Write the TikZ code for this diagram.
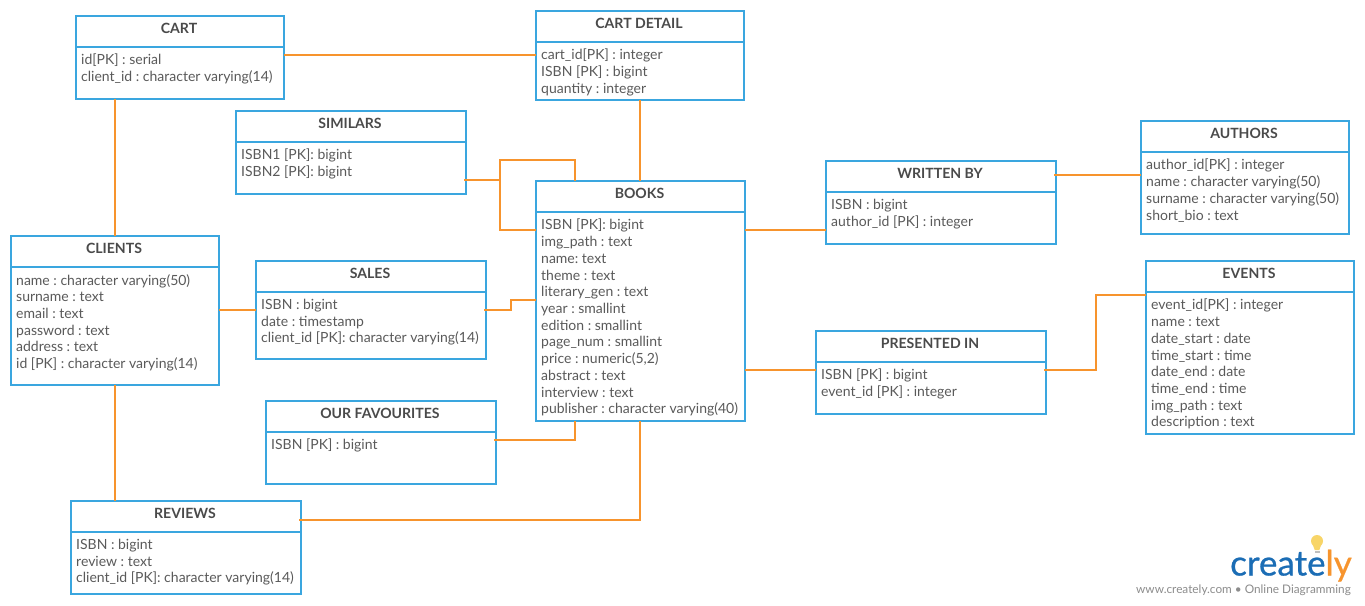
\documentclass[tikz,border=0pt]{standalone}
\usepackage{fontspec}
\setmainfont{Lato}
\newfontfamily\logofont[FakeBold=0.7]{Lato}
\usetikzlibrary{calc}
\frenchspacing
\definecolor{boxblue}{HTML}{3AA6DF}
\definecolor{linkorange}{HTML}{F7942D}
\definecolor{inktext}{HTML}{5A5A5A}
\definecolor{inktitle}{HTML}{4A4A4A}
\definecolor{logoblue}{HTML}{1B6DB5}
\definecolor{bulb}{HTML}{F8D568}
\definecolor{tagtext}{HTML}{8C8C8C}
\tikzset{
  x=1pt,y=-1pt,
  tablebox/.style={draw=boxblue,line width=2pt,anchor=north west,inner sep=0pt,outer sep=0pt},
  tabletitle/.style={font=\fontsize{14.1}{16}\selectfont\bfseries,text=inktitle,inner sep=0pt,anchor=center},
  tablebody/.style={font=\frenchspacing\fontsize{14}{16.72}\selectfont,text=inktext,inner sep=0pt,anchor=north west,align=left},
  link/.style={draw=linkorange,line width=2pt,line join=miter},
}
% name, x0, y0, x1, y1, divider y, title, body
\newcommand{\erbox}[8]{%
  \node[tablebox,minimum width={(#4-#2)*1pt},minimum height={(#5-#3)*1pt}] (#1) at (#2,#3) {};
  \node[tabletitle] (#1title) at ({(#2+#4)/2-1},#3+12.3) {#7};
  \draw[boxblue,line width=2pt] (#2,#6) -- (#4,#6);
  \node[tablebody] (#1body) at (#2+5,#6+7) {#8};
}
\begin{document}
\begin{tikzpicture}
\useasboundingbox (0,0) rectangle (1365,605);
\fill[white] (0,0) rectangle (1365,605);

\erbox{cart}{76}{16}{284}{99}{47}{CART}{id[PK] : serial\\client\_id : character varying(14)}
\erbox{detail}{536}{11}{744}{100}{42}{CART DETAIL}{cart\_id[PK] : integer\\ISBN [PK] : bigint\\quantity : integer}
\erbox{similars}{236}{111}{466}{194}{142}{SIMILARS}{ISBN1 [PK]: bigint\\ISBN2 [PK]: bigint}
\erbox{books}{536}{181}{745}{421}{212}{BOOKS}{ISBN [PK]: bigint\\img\_path : text\\name: text\\theme : text\\literary\_gen : text\\year : smallint\\edition : smallint\\page\_num : smallint\\price : numeric(5,2)\\abstract : text\\interview : text\\publisher : character varying(40)}
\erbox{written}{826}{161}{1056}{244}{192}{WRITTEN BY}{ISBN : bigint\\author\_id [PK] : integer}
\erbox{authors}{1141}{121}{1349}{234}{152}{AUTHORS}{author\_id[PK] : integer\\name : character varying(50)\\surname : character varying(50)\\short\_bio : text}
\erbox{clients}{11}{236}{219}{385}{267}{CLIENTS}{name : character varying(50)\\surname : text\\email : text\\password : text\\address : text\\id [PK] : character varying(14)}
\erbox{sales}{256}{261}{486}{359}{292}{SALES}{ISBN : bigint\\date : timestamp\\client\_id [PK]: character varying(14)}
\erbox{events}{1146}{261}{1354}{434}{292}{EVENTS}{event\_id[PK] : integer\\name : text\\date\_start : date\\time\_start : time\\date\_end : date\\time\_end : time\\img\_path : text\\description : text}
\erbox{presented}{816}{331}{1046}{414}{362}{PRESENTED IN}{ISBN [PK] : bigint\\event\_id [PK] : integer}
\erbox{favourites}{266}{401}{496}{484}{432}{OUR FAVOURITES}{ISBN [PK] : bigint}
\erbox{reviews}{71}{501}{301}{594}{532}{REVIEWS}{ISBN : bigint\\review : text\\client\_id [PK]: character varying(14)}

% connectors, node to node
\draw[link] (cart.north east |- 0,55) -- (detail.north west |- 0,55);
\draw[link] (detail.south west -| 640,0) -- (books.north west -| 640,0);
\draw[link] (cart.south west -| 115,0) -- (clients.north west -| 115,0);
\draw[link] (clients.south west -| 115,0) -- (reviews.north west -| 115,0);
\draw[link] ($(similars.north east |- 0,180)+(-2,0)$) -- (500,180) -- (500,160) -- (575,160) -- (books.north west -| 575,0);
\draw[link] (500,180) -- (500,230) -- (books.north west |- 0,230);
\draw[link] (clients.north east |- 0,310) -- (sales.north west |- 0,310);
\draw[link] ($(sales.north east |- 0,310)+(-2,0)$) -- (511,310) -- (511,300) -- (books.north west |- 0,300);
\draw[link] ($(favourites.north east |- 0,440)+(-2,0)$) -- (575,440) -- (books.south west -| 575,0);
\draw[link] ($(reviews.north east |- 0,520)+(-2,0)$) -- (640,520) -- (books.south west -| 640,0);
\draw[link] (books.north east |- 0,230) -- (written.north west |- 0,230);
\draw[link] ($(written.north east |- 0,175)+(-2,0)$) -- (authors.north west |- 0,175);
\draw[link] (books.north east |- 0,370) -- (presented.north west |- 0,370);
\draw[link] ($(presented.north east |- 0,370)+(-2,0)$) -- (1096,370) -- (1096,295) -- (events.north west |- 0,295);

% logo
\fill[bulb] (1317,541) circle (6);
\fill[bulb] (1312.5,544) -- (1321.5,544) -- (1319.3,550) -- (1314.7,550) -- cycle;
\fill[gray!50] (1314.5,550.5) rectangle (1319.5,553);
\node[inner sep=0pt,anchor=base east,font=\logofont\fontsize{35}{38}\selectfont] (logotext) at (1352,575.5) {\textcolor{logoblue}{create}\textcolor{linkorange}{ly}};
\node[inner sep=0pt,anchor=base east,font=\fontsize{11.8}{12}\selectfont,text=tagtext] (logotag) at (1351,593) {www.creately.com • Online Diagramming};
\end{tikzpicture}
\end{document}
